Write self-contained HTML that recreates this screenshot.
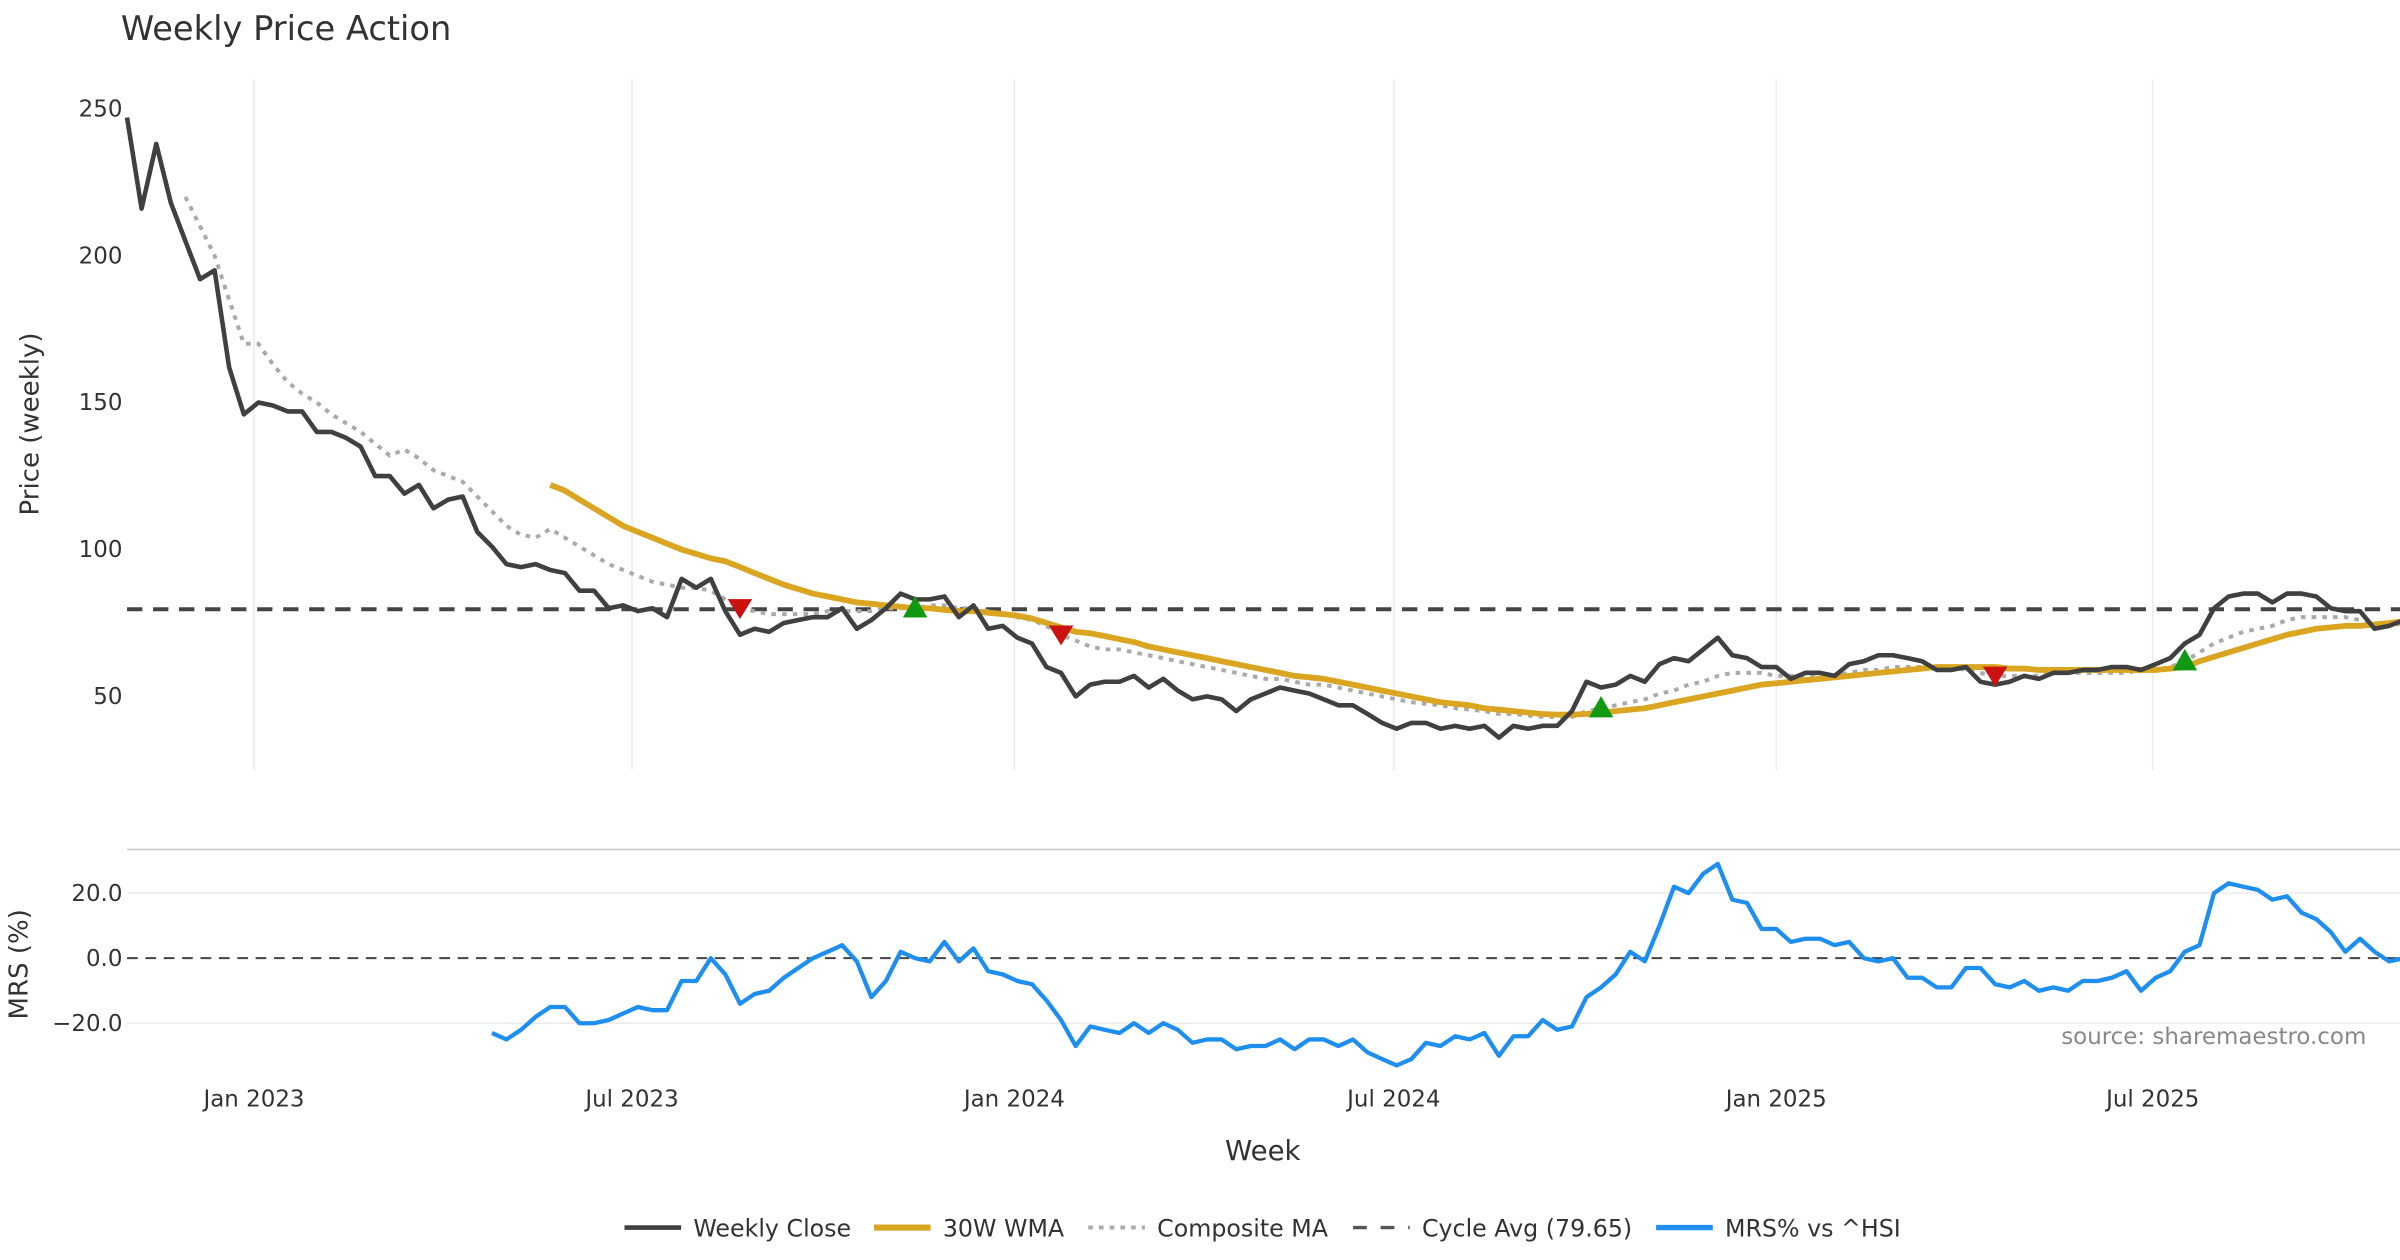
<!DOCTYPE html>
<html><head><meta charset="utf-8"><style>
html,body{margin:0;padding:0;background:#fff;}
svg{display:block;font-family:"DejaVu Sans","Liberation Sans",sans-serif;}
</style></head><body>
<svg id="chart" width="2400" height="1260" viewBox="0 0 1568 823.2" xmlns="http://www.w3.org/2000/svg">
<text x="79" y="26" font-size="22" fill="#333">Weekly Price Action</text>
<text transform="translate(25,277) rotate(-90)" text-anchor="middle" font-size="17" fill="#333">Price (weekly)</text>
<text transform="translate(18,630) rotate(-90)" text-anchor="middle" font-size="17" fill="#333">MRS (%)</text>
<text x="825" y="758" text-anchor="middle" font-size="18" fill="#333">Week</text>
<text x="1546" y="682" text-anchor="end" font-size="15" fill="#888">source: sharemaestro.com</text>
<line x1="83" y1="555" x2="1568" y2="555" stroke="#ccc" stroke-width="1.2"/>
<g id="grid"></g>
<g id="series"></g>
<g id="legend"></g>
</svg>
<script>
const closeVals=[247,216,238,218,205,192,195,162,146,150,149,147,147,140,140,138,135,125,125,119,122,114,117,118,106,101,95,94,95,93,92,86,86,80,81,79,80,77,90,87,90,79,71,73,72,75,76,77,77,80,73,76,80,85,83,83,84,77,81,73,74,70,68,60,58,50,54,55,55,57,53,56,52,49,50,49,45,49,51,53,52,51,49,47,47,44,41,39,41,41,39,40,39,40,36,40,39,40,40,45,55,53,54,57,55,61,63,62,66,70,64,63,60,60,56,58,58,57,61,62,64,64,63,62,59,59,60,55,54,55,57,56,58,58,59,59,60,60,59,61,63,68,71,80,84,85,85,82,85,85,84,80,79,79,73,74,76];
const wmaVals=[null,null,null,null,null,null,null,null,null,null,null,null,null,null,null,null,null,null,null,null,null,null,null,null,null,null,null,null,null,122,120,117,114,111,108,106,104,102,100,98.5,97,96,94,92,90,88,86.5,85,84,83,82,81.5,81,80.5,80,80,79.5,79,79,78.5,78,77.5,76.5,75,73.5,72,71.5,70.5,69.5,68.5,67,66,65,64,63,62,61,60,59,58,57,56.5,56,55,54,53,52,51,50,49,48,47.5,47,46,45.5,45,44.5,44,43.8,43.8,44,44.5,45,45.5,46,47,48,49,50,51,52,53,54,54.5,55,55.5,56,56.5,57,57.5,58,58.5,59,59.5,60,60,60,60,60,59.5,59.5,59,59,59,59,59,59,59,59,59,59.5,60,62,63.5,65,66.5,68,69.5,71,72,73,73.5,74,74,74.5,75,75.5];
const compVals=[null,null,null,null,220,210,200,185,170,170,163,157,153,150,146,143,140,136,132,134,131,127,125,123,118,113,108,105,104,107,104,101,98,95,93,91,89,88,87,87,86,83,80,79,78,78,78,78,79,79,79,79,80,80,80,81,81,80,80,79,78,77,76,74,71,69,67,66,66,65,64,63,62,61,60,59,58,57,56,56,55,54,54,53,52,51,50,49,48,47.5,47,46,45.5,45,44,44,43.5,43,43,43,45,46,47,48,49,51,52,54,55,57,58,58,58,57,57,57,57,57,58,59,59,60,60,60,60,60,59,58,57,57,57,57,58,58,58,58,58,58,59,59,60,62,65,68,70,72,73,74,76,77,77,77,77,76,75,74,75];
const mrsVals=[null,null,null,null,null,null,null,null,null,null,null,null,null,null,null,null,null,null,null,null,null,null,null,null,null,-23,-25,-22,-18,-15,-15,-20,-20,-19,-17,-15,-16,-16,-7,-7,0,-5,-14,-11,-10,-6,-3,0,2,4,-1,-12,-7,2,0,-1,5,-1,3,-4,-5,-7,-8,-13,-19,-27,-21,-22,-23,-20,-23,-20,-22,-26,-25,-25,-28,-27,-27,-25,-28,-25,-25,-27,-25,-29,-31,-33,-31,-26,-27,-24,-25,-23,-30,-24,-24,-19,-22,-21,-12,-9,-5,2,-1,10,22,20,26,29,18,17,9,9,5,6,6,4,5,0,-1,0,-6,-6,-9,-9,-3,-3,-8,-9,-7,-10,-9,-10,-7,-7,-6,-4,-10,-6,-4,2,4,20,23,22,21,18,19,14,12,8,2,6,2,-1,0];
const sellIdx=[42,64,128];
const buyIdx=[54,101,141];
const cycleAvg=79.65;
const priceTicks=[50,100,150,200,250];
const mrsTicks=[-20,0,20];
const mrsTickLabels=["\u221220.0","0.0","20.0"];
const dateTicks=[8.7,34.6,60.8,86.8,113,138.8];
const dateLabels=["Jan 2023","Jul 2023","Jan 2024","Jul 2024","Jan 2025","Jul 2025"];

const NS="http://www.w3.org/2000/svg";
const X0=83,XS=9.535;
function xs(i){return X0+i*XS;}
function yp(v){return 455-(v-50)*1.92;}
function ym(v){return 626-v*2.125;}
function mk(tag,attrs,parent){const e=document.createElementNS(NS,tag);for(const k in attrs)e.setAttribute(k,attrs[k]);parent.appendChild(e);return e;}
const grid=document.getElementById('grid'),ser=document.getElementById('series'),leg=document.getElementById('legend');

dateTicks.forEach((d,k)=>{
  const l=mk('line',{x1:xs(d),x2:xs(d),y1:52,y2:503,stroke:'#ebebeb','stroke-width':1},grid);
  
  
  const t=mk('text',{x:xs(d),y:723,'text-anchor':'middle','font-size':15,fill:'#333'},grid);
  t.textContent=dateLabels[k];
  
  
});
priceTicks.forEach(v=>{
  const t=mk('text',{x:80,y:yp(v)+5,'text-anchor':'end','font-size':15,fill:'#333'},grid);
  t.textContent=v;
  
  
});
mrsTicks.forEach((v,k)=>{
  if(v!==0){const l=mk('line',{x1:83,x2:1568,y1:ym(v),y2:ym(v),stroke:'#ebebeb','stroke-width':1},grid);
  
  }
  const t=mk('text',{x:80,y:ym(v)+5,'text-anchor':'end','font-size':15,fill:'#333'},grid);
  t.textContent=mrsTickLabels[k];
  
  
});
function path(arr,yf){let d='',pen=false;arr.forEach((v,i)=>{if(v==null){pen=false;return;}d+=(pen?'L':'M')+xs(i).toFixed(1)+','+yf(v).toFixed(1);pen=true;});return d;}

const z=mk('line',{x1:83,x2:1568,y1:ym(0),y2:ym(0),stroke:'#444','stroke-width':1.3,'stroke-dasharray':'7,5'},ser);


const ca=mk('line',{x1:83,x2:1568,y1:yp(cycleAvg),y2:yp(cycleAvg),stroke:'#444','stroke-width':2.6,'stroke-dasharray':'10,7'},ser);


const pc=mk('path',{d:path(compVals,yp),fill:'none',stroke:'#aaa','stroke-width':2.6,'stroke-dasharray':'3,4'},ser);


const pw=mk('path',{d:path(wmaVals,yp),fill:'none',stroke:'#DAA520','stroke-width':3.8,'stroke-linejoin':'round'},ser);


const pcl=mk('path',{d:path(closeVals,yp),fill:'none',stroke:'#404040','stroke-width':3,'stroke-linejoin':'round'},ser);


const pm=mk('path',{d:path(mrsVals,ym),fill:'none',stroke:'#1E8FEF','stroke-width':2.8,'stroke-linejoin':'round'},ser);



sellIdx.forEach(i=>{const x=xs(i),y=yp(compVals[i]);
  const p=mk('polygon',{points:`${x-8},${y-6} ${x+8},${y-6} ${x},${y+7}`,fill:'#cc1111'},ser);
  
  });
buyIdx.forEach(i=>{const x=xs(i),y=yp(compVals[i]);
  const p=mk('polygon',{points:`${x-8},${y+6} ${x+8},${y+6} ${x},${y-8}`,fill:'#119911'},ser);
  
  });

const items=[[408,'#404040',3,'','Weekly Close'],[571,'#DAA520',4,'','30W WMA'],[711,'#aaa',2.6,'3,4','Composite MA'],[884,'#555',2.2,'9,9','Cycle Avg (79.65)'],[1082,'#1E8FEF',3.5,'','MRS% vs ^HSI']];
items.forEach(it=>{
  const g=mk('g',{},leg);
  
  
  const a={x1:it[0],x2:it[0]+37,y1:802,y2:802,stroke:it[1],'stroke-width':it[2]};
  if(it[3])a['stroke-dasharray']=it[3];
  mk('line',a,g);
  const t=mk('text',{x:it[0]+45,y:808,'font-size':15.5,fill:'#333'},g);
  t.textContent=it[4];
});
</script>
</body></html>
